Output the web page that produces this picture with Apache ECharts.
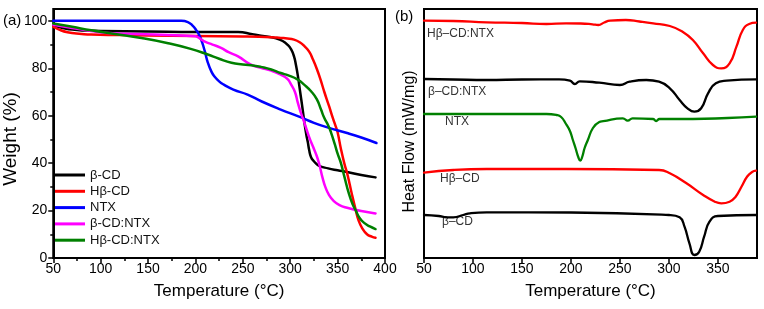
<!DOCTYPE html>
<html><head><meta charset="utf-8">
<script src="https://cdn.jsdelivr.net/npm/echarts@6/dist/echarts.min.js"></script>
<style>html,body{margin:0;padding:0;background:#fff}#c{width:764px;height:309px}</style>
</head><body><div id="c"></div>
<script>
// ---------- (a) TGA data ----------
const tgaNames = ['β-CD', 'Hβ-CD', 'NTX', 'β-CD:NTX', 'Hβ-CD:NTX'];
const tgaColors = ['#000000', '#ff0000', '#0000ff', '#ff00ff', '#008000'];

const bcdT = [50,60,70,85,100,150,200,245,260,275,285,292,297,301,304,306,308,310.5,313,315,317,318.5,320,322,325,330,340,350,360,375,390];
const bcdW = [98,97,96.3,95.9,95.7,95.5,95.3,95.3,94.4,93.4,92.6,91.5,90,88,85,81.5,77,70,63,57,52,49,45.5,42.5,40.8,39,37.8,37,36.3,35,34];

const hbcdT = [50,55,65,80,90,120,150,200,250,280,290,297,304,310,315,320,324,328,332,336,341,345,348,350,353.5,357,360.5,365,369,372,376,381,386,390];
const hbcdW = [97.5,96.5,95.2,94.5,94.2,94,93.8,93.6,93.4,93.1,92.8,92.6,92.1,91,89.3,87,83.7,79.8,75.2,70,64,59,55.5,53,46,40,35,27,20.4,16,12.5,10,9,8.5];

const ntxT = [50,100,150,185,192,197,201,204,207,210,213,217,220,225,230,240,255,270,290,310,325,340,360,375,391];
const ntxW = [100,100,100,100,99.5,98,96,94,91,87,82.5,78.5,76.6,74.5,73.1,71,68.9,66,62.6,59.5,57,55,52.7,50.8,48.5];

const bcdNtxT = [50,70,90,108,157,185,200,203,206,210,218,227,235,245,258,269,280,290,297,301,305,308,311,315,320,324,328,331,334,337,341,346,352,360,375,390];
const bcdNtxW = [98.4,97,95.7,94.9,94.2,93.8,93.5,93,92.2,91.2,90,88.6,86.8,85,81.6,80.2,79,77.3,75.5,73.1,70,65.5,61.5,57,51,47,43,39,34,30,26.5,24,22.3,21.2,19.8,18.8];

const hbcdNtxT = [50,70,90,115,143,170,195,213,225,238,250,262,269,280,290,298,308,315,322,328,332.5,336,340,343,347,350,353.5,357,362,366,369,373,378,384,390];
const hbcdNtxW = [98.9,97.5,96,94.5,92.8,90.7,88.2,85.8,84,82.3,81.6,81.1,80.6,79.5,78,77,75.2,73,70.3,67,62.6,59,56,53,48,44,40,34.5,27,22.5,20.2,17,14.8,13.3,12.2];

const tgaXTicks = [50,100,150,200,250,300,350,400];
const tgaYTicks = [0,20,40,60,80,100];
const tgaYMinor = [10,30,50,70,90];

// ---------- (b) DSC data (arbitrary offset units) ----------
const dscNames = ['Hβ–CD:NTX', 'β–CD:NTX', 'NTX', 'Hβ–CD', 'β–CD'];
const dscColors = ['#ff0000', '#000000', '#008000', '#ff0000', '#000000'];

const dscHbNtxT = [50,80,114,150,175,195,210,222,228,234,240,256,270,284,301,314,324.5,335,345,353.5,362,369,375.5,382,389];
const dscHbNtxY = [237.3,237,235.7,235,234,234.7,234.5,233.7,233,235.5,237.3,238,236.5,234.7,232,226.3,218,204.7,193,189.7,194.7,211.3,228,234,235.3];

const dscBNtxT = [50,80,114,150,188,199,204,209,229,250,260,277,290,301,311,319,326,333,340,348,359,389];
const dscBNtxY = [179,178.5,178,178.5,178.7,177.3,174,176.7,175.3,173,176.3,178,176.3,169.7,158,149.7,146.3,149.7,164.7,174.7,177.3,178.7];

const dscNtxT = [50,100,150,175,185,190,195,199,202,205,207.5,209.6,211.5,214,217.3,222.5,229,233,253,258,263,284,287,290.5,324.5,360,389];
const dscNtxY = [144,144,144,144,143,141,134,127,118,109,101,97.3,101,110,118,130,136,136.8,139.7,137.3,139.7,139,137,139,139,140,141.3];

const dscHbT = [50,80,114,195,290,301,318,335,347,353.5,362,368,374,380,385,389];
const dscHbY = [85.3,88,89,89,88,84.7,74.7,63,56.3,54.7,56.3,61,71,81.5,86,87.3];

const dscBT = [50,65,73,80,90,97,114,200,300,311,316,321,326,331,336,341.5,350,389];
const dscBY = [43,42,40.7,40.7,43,44.7,45.7,45.5,43,40.7,31.3,14.7,3,6.3,21.3,36.3,42,43];

const dscXTicks = [50,100,150,200,250,300,350];

// ---------- build ----------
const zip = (a, b) => a.map((v, i) => [v, b[i]]);
const tgaData = [zip(bcdT,bcdW), zip(hbcdT,hbcdW), zip(ntxT,ntxW), zip(bcdNtxT,bcdNtxW), zip(hbcdNtxT,hbcdNtxW)];
const dscData = [zip(dscHbNtxT,dscHbNtxY), zip(dscBNtxT,dscBNtxY), zip(dscNtxT,dscNtxY), zip(dscHbT,dscHbY), zip(dscBT,dscBY)];

const FONT = "'Liberation Sans', Arial, sans-serif";
const black = '#000';

const series = [];
tgaData.forEach((d, i) => series.push({
  name: tgaNames[i], type: 'line', xAxisIndex: 0, yAxisIndex: 0, data: d,
  showSymbol: false, smooth: 0.5,
  lineStyle: { color: tgaColors[i], width: 2.5, join: 'round', cap: 'round' }, itemStyle: { color: tgaColors[i] }
}));
dscData.forEach((d, i) => series.push({
  name: 'DSC ' + dscNames[i], type: 'line', xAxisIndex: 1, yAxisIndex: 2, data: d,
  showSymbol: false, smooth: 0.5,
  lineStyle: { color: dscColors[i], width: 2.3, join: 'round', cap: 'round' }, itemStyle: { color: dscColors[i] }
}));

const labelPos = [[427,35],[428,93],[445,122.5],[440,180],[442,223]];

const chart = echarts.init(document.getElementById('c'), null, { renderer: 'canvas' });
chart.setOption({
  animation: false,
  backgroundColor: '#fff',
  textStyle: { fontFamily: FONT },
  grid: [
    { left: 52, right: 379, top: 9, bottom: 51, show: true, borderColor: black, borderWidth: 2 },
    { left: 424, right: 7, top: 9, bottom: 51, show: true, borderColor: black, borderWidth: 2 }
  ],
  legend: {
    data: tgaNames, orient: 'vertical', left: 55, top: 168, padding: 0,
    icon: 'rect', itemWidth: 30, itemHeight: 3, itemGap: 2.3,
    textStyle: { fontSize: 13, lineHeight: 14, color: '#111', fontFamily: FONT }
  },
  xAxis: [
    { gridIndex: 0, type: 'value', min: 50, max: 400, interval: 50,
      axisLine: { lineStyle: { color: black, width: 2 } },
      axisTick: { length: 5, lineStyle: { color: black, width: 1.5 } },
      minorTick: { show: true, splitNumber: 2, length: 3, lineStyle: { color: black, width: 1.5 } },
      axisLabel: { color: black, fontSize: 14, margin: 4, fontFamily: FONT, customValues: tgaXTicks },
      splitLine: { show: false },
      name: 'Temperature (°C)', nameLocation: 'middle', nameGap: 25,
      nameTextStyle: { fontSize: 17, color: black, fontFamily: FONT } },
    { gridIndex: 1, type: 'value', min: 50, max: 390, interval: 50,
      axisLine: { lineStyle: { color: black, width: 2 } },
      axisTick: { length: 5, lineStyle: { color: black, width: 1.5 }, customValues: dscXTicks },
      axisLabel: { color: black, fontSize: 14, margin: 4, fontFamily: FONT, customValues: dscXTicks },
      splitLine: { show: false },
      name: 'Temperature (°C)', nameLocation: 'middle', nameGap: 25,
      nameTextStyle: { fontSize: 17, color: black, fontFamily: FONT } }
  ],
  yAxis: [
    { gridIndex: 0, type: 'value', min: 0, max: 105, interval: 20,
      axisLine: { show: true, lineStyle: { color: black, width: 2 } },
      axisTick: { show: true, length: 5, lineStyle: { color: black, width: 1.5 }, customValues: tgaYTicks },
      axisLabel: { color: black, fontSize: 14, margin: 6, fontFamily: FONT, customValues: tgaYTicks },
      splitLine: { show: false },
      name: 'Weight (%)', nameLocation: 'middle', nameGap: 31,
      nameTextStyle: { fontSize: 19, color: black, fontFamily: FONT, padding: [0, 11, 0, 0] } },
    { gridIndex: 0, type: 'value', min: 0, max: 105, position: 'left',
      axisLine: { show: false },
      axisTick: { show: true, length: 3, lineStyle: { color: black, width: 1.5 }, customValues: tgaYMinor },
      axisLabel: { show: false }, splitLine: { show: false } },
    { gridIndex: 1, type: 'value', min: 0, max: 249,
      axisLine: { show: true, lineStyle: { color: black, width: 2 } },
      axisTick: { show: false }, axisLabel: { show: false }, splitLine: { show: false },
      name: 'Heat Flow (mW/mg)', nameLocation: 'middle', nameGap: 6,
      nameTextStyle: { fontSize: 16, color: black, fontFamily: FONT, padding: [0, 16, 0, 0] } }
  ],
  series: series,
  graphic: [
    { type: 'text', left: 3, top: 13, style: { text: '(a)', fontSize: 15, fill: black, fontFamily: FONT } },
    { type: 'text', left: 395, top: 9, style: { text: '(b)', fontSize: 15, fill: black, fontFamily: FONT } }
  ].concat(dscNames.map((n, i) => ({
    type: 'text', left: labelPos[i][0], top: labelPos[i][1] - 7,
    style: { text: n, fontSize: 12, fill: '#333', fontFamily: FONT }
  })))
});
</script></body></html>
